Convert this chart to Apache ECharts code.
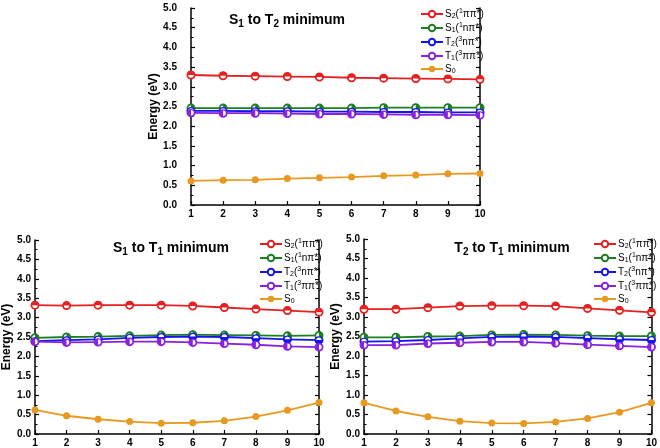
<!DOCTYPE html>
<html><head><meta charset="utf-8">
<script src="https://cdn.jsdelivr.net/npm/echarts@6/dist/echarts.min.js"></script>
<style>html,body{margin:0;padding:0;background:#fff}#c{width:660px;height:448px}</style>
</head><body><div id="c"></div>
<script>
const xValues = [1,2,3,4,5,6,7,8,9,10];
// rich-text forms of the labels: {s|x}/{b|x} = subscript, {p|x} = superscript
const panelTitles = ['S{s|1} to T{s|2} minimum','S{s|1} to T{s|1} minimum','T{s|2} to T{s|1} minimum'];
const seriesNames = ['S2(1\u03c0\u03c0*)','S1(1n\u03c0*)','T2(3n\u03c0*)','T1(3\u03c0\u03c0*)','S0'];
const legendLabels = ['S{b|2}({p|1}\u03c0\u03c0*)','S{b|1}({p|1}n\u03c0*)','T{b|2}({p|3}n\u03c0*)','T{b|1}({p|3}\u03c0\u03c0*)','S{b|0}'];
const yTicks = ['0.0','0.5','1.0','1.5','2.0','2.5','3.0','3.5','4.0','4.5','5.0'];

// Panel 1: S1 to T2 minimum
const p1_S2 = [3.30,3.28,3.27,3.26,3.25,3.23,3.22,3.21,3.20,3.19];
const p1_S1 = [2.46,2.46,2.46,2.46,2.46,2.46,2.47,2.47,2.47,2.47];
const p1_T2 = [2.39,2.39,2.38,2.38,2.37,2.37,2.36,2.36,2.35,2.35];
const p1_T1 = [2.34,2.33,2.33,2.32,2.31,2.31,2.30,2.29,2.29,2.28];
const p1_S0 = [0.61,0.63,0.64,0.67,0.69,0.71,0.74,0.76,0.79,0.80];
// Panel 2: S1 to T1 minimum
const p2_S2 = [3.32,3.31,3.32,3.32,3.32,3.30,3.26,3.22,3.18,3.14];
const p2_S1 = [2.48,2.50,2.51,2.53,2.55,2.56,2.55,2.54,2.53,2.54];
const p2_T2 = [2.39,2.42,2.44,2.48,2.50,2.51,2.50,2.47,2.44,2.42];
const p2_T1 = [2.38,2.36,2.37,2.38,2.38,2.36,2.33,2.30,2.26,2.24];
const p2_S0 = [0.62,0.47,0.38,0.32,0.28,0.29,0.34,0.45,0.61,0.81];
// Panel 3: T2 to T1 minimum
const p3_S2 = [3.20,3.20,3.24,3.28,3.29,3.29,3.28,3.22,3.17,3.12];
const p3_S1 = [2.48,2.48,2.50,2.51,2.54,2.55,2.54,2.52,2.51,2.51];
const p3_T2 = [2.37,2.38,2.41,2.45,2.49,2.50,2.49,2.46,2.43,2.41];
const p3_T1 = [2.28,2.28,2.32,2.34,2.36,2.36,2.33,2.29,2.26,2.23];
const p3_S0 = [0.80,0.59,0.44,0.33,0.28,0.27,0.31,0.40,0.56,0.80];

const panels = [
  [p1_S2,p1_S1,p1_T2,p1_T1,p1_S0],
  [p2_S2,p2_S1,p2_T2,p2_T1,p2_S0],
  [p3_S2,p3_S1,p3_T2,p3_T1,p3_S0]
];
const colors = ['#e62020','#1c7f24','#1414f0','#8a22dd','#e89a20'];
const FONT = 'Liberation Sans, Arial, sans-serif';

// filled half of each marker: [startAngle, endAngle] (canvas radians), null = fully filled
const halfAngles = [
  [Math.PI, 2 * Math.PI],            // top half
  [-Math.PI / 2, Math.PI / 2],       // right half
  [0, Math.PI],                      // bottom half
  [Math.PI / 2, 3 * Math.PI / 2],    // left half
  null
];

const grids = [
  {left:191, right:180, top:8, height:197},
  {left:30, right:341, top:240, height:195},
  {left:364, right:5, top:239, height:197}
];
const nameGaps = [30, 22, 22];
const labelMargins = [14, 4, 4];

const xAxes = [], yAxes = [], series = [], titles = [], legends = [];
grids.forEach((g, i) => {
  xAxes.push({
    type:'value', gridIndex:i, min:1, max:10, interval:1,
    axisLine:{lineStyle:{color:'#000', width:1.5}},
    axisTick:{inside:true, length:4, lineStyle:{color:'#000', width:1.2}},
    splitLine:{show:false},
    axisLabel:{color:'#000', fontFamily:FONT, fontWeight:'bold', fontSize:10, margin:4}
  });
  yAxes.push({
    type:'value', gridIndex:i, min:0, max:5, interval:0.5,
    name:'Energy (eV)', nameLocation:'middle', nameGap:nameGaps[i],
    nameTextStyle:{color:'#000', fontFamily:FONT, fontWeight:'bold', fontSize:12},
    axisLine:{show:true, lineStyle:{color:'#000', width:1.5}},
    axisTick:{inside:true, length:4, lineStyle:{color:'#000', width:1.2}},
    minorTick:{show:true, splitNumber:2, length:2.5, lineStyle:{color:'#000'}},
    splitLine:{show:false},
    axisLabel:{color:'#000', fontFamily:FONT, fontWeight:'bold', fontSize:10, margin:labelMargins[i],
      formatter:(v)=>yTicks[Math.round(v*2)]}
  });
  yAxes.push({
    type:'value', gridIndex:i, min:0, max:5, interval:0.5, position:'right',
    axisLine:{show:true, lineStyle:{color:'#000', width:1.5}},
    axisTick:{inside:true, length:4, lineStyle:{color:'#000', width:1.2}},
    minorTick:{show:true, splitNumber:2, length:2.5, lineStyle:{color:'#000'}},
    splitLine:{show:false}, axisLabel:{show:false}
  });
  panels[i].forEach((vals, k) => {
    const data = xValues.map((x, j) => [x, vals[j]]);
    series.push({
      type:'line', name:seriesNames[k], xAxisIndex:i, yAxisIndex:i*2,
      data: data,
      color: colors[k],
      lineStyle:{width:1.8},
      symbol: k === 4 ? 'circle' : 'emptyCircle',
      symbolSize: 7,
      itemStyle:{borderWidth:1.2},
      clip:false, z:2
    });
    const ang = halfAngles[k];
    if (ang) {
      const col = colors[k];
      series.push({
        type:'custom', name:'half' + i + '_' + k, coordinateSystem:'cartesian2d',
        xAxisIndex:i, yAxisIndex:i*2, data: data, silent:true, clip:false, z:5,
        renderItem: (params, api) => {
          const p = api.coord([api.value(0), api.value(1)]);
          return {type:'group', children:[
            {type:'circle', shape:{cx:p[0], cy:p[1], r:3.3}, style:{fill:'#fff', stroke:col, lineWidth:1.2}},
            {type:'sector', shape:{cx:p[0], cy:p[1], r:3.3, r0:0, startAngle:ang[0], endAngle:ang[1], clockwise:true}, style:{fill:col}}
          ]};
        }
      });
    }
  });
});

const titleRich = {s:{fontFamily:FONT, fontWeight:'bold', fontSize:10, padding:[8,0,0,0]}};
const titleStyle = {fontFamily:FONT, fontWeight:'bold', fontSize:14, color:'#000', rich:titleRich};
titles.push(
  {text:panelTitles[0], left:282, top:6, textAlign:'center', textStyle:titleStyle},
  {text:panelTitles[1], left:166, top:234, textAlign:'center', textStyle:titleStyle},
  {text:panelTitles[2], left:507, top:234, textAlign:'center', textStyle:titleStyle}
);
const legendPos = [[415, 3],[254, 233],[588, 233]];
legendPos.forEach(p => legends.push({
  orient:'vertical', left:p[0], top:p[1], itemWidth:22, itemHeight:8, itemGap:2,
  data: seriesNames,
  formatter: (name) => legendLabels[seriesNames.indexOf(name)],
  textStyle:{fontFamily:FONT, fontSize:10, color:'#000', padding:[0,0,0,-3],
    rich:{
      b:{fontFamily:FONT, fontSize:7, padding:[5,0,0,0]},
      p:{fontFamily:FONT, fontSize:7, padding:[0,0,5,0]}
    }}
}));

const chart = echarts.init(document.getElementById('c'), null, {renderer:'canvas'});
chart.setOption({
  animation:false,
  title: titles,
  legend: legends,
  grid: grids,
  xAxis: xAxes,
  yAxis: yAxes,
  series: series
});
</script></body></html>
